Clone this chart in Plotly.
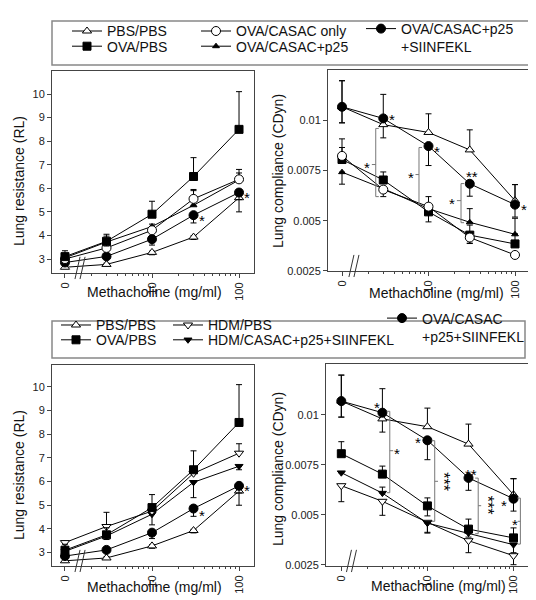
import numpy as np
import plotly.graph_objects as go

# ---------------- data ----------------
doses = [0, 3, 10, 30, 100]              # methacholine (mg/ml); dose 0 is drawn at the axis break
x_tick_doses = [0, 10, 100]
x_tick_labels = ["0", "10", "100"]
minor_doses = [2, 3, 4, 5, 6, 7, 8, 9, 20, 30, 40, 50, 60, 70, 80, 90]
rl_ticks = [3, 4, 5, 6, 7, 8, 9, 10]
cdyn_ticks = [0.0025, 0.005, 0.0075, 0.01]
cdyn_tick_labels = ["0.0025", "0.005", "0.0075", "0.01"]

# Lung resistance (RL)
rl_pbs_pbs = [2.65, 2.77, 3.28, 3.93, 5.60]
rl_pbs_pbs_up = [0.05, 0.05, 0.05, 0.05, 0.0]
rl_pbs_pbs_dn = [0.05, 0.05, 0.1, 0.1, 0.60]
rl_ova_pbs = [3.10, 3.75, 4.90, 6.50, 8.50]
rl_ova_pbs_up = [0.25, 0.30, 0.55, 0.80, 1.60]
rl_ova_pbs_dn = [0.1, 0.20, 0.0, 0.0, 0.0]
rl_casac_only = [3.00, 3.47, 4.22, 5.55, 6.38]
rl_casac_only_up = [0.15, 0.15, 0.15, 0.40, 0.42]
rl_casac_only_dn = [0.0, 0.0, 0.0, 0.0, 0.0]
rl_casac_p25 = [3.05, 3.72, 4.38, 5.28, 6.35]
rl_casac_p25_up = [0.15, 0.25, 0.10, 0.62, 0.30]
rl_casac_p25_dn = [0.0, 0.0, 0.0, 0.0, 0.0]
rl_siinfekl = [2.85, 3.11, 3.84, 4.86, 5.82]
rl_siinfekl_up = [0.0, 0.0, 0.0, 0.0, 0.0]
rl_siinfekl_dn = [0.10, 0.10, 0.25, 0.33, 0.30]
rl_hdm_pbs = [3.42, 4.10, 4.75, 6.35, 7.20]
rl_hdm_pbs_up = [0.05, 0.60, 0.20, 0.25, 0.40]
rl_hdm_pbs_dn = [0.0, 0.0, 0.0, 0.0, 0.0]
rl_hdm_casac = [3.05, 3.70, 4.62, 5.97, 6.65]
rl_hdm_casac_up = [0.0, 0.0, 0.0, 0.0, 0.0]
rl_hdm_casac_dn = [0.10, 0.05, 0.45, 0.65, 0.15]

# Lung compliance (CDyn)
cd_pbs_pbs = [0.01068, 0.00979, 0.00940, 0.00853, 0.00600]
cd_pbs_pbs_up = [0.0013, 0.0, 0.00093, 0.0010, 0.0008]
cd_pbs_pbs_dn = [0.0008, 0.00066, 0.0, 0.0, 0.0]
cd_ova_pbs = [0.00805, 0.00703, 0.00544, 0.00428, 0.00384]
cd_ova_pbs_up = [0.0006, 0.0004, 0.0004, 0.0005, 0.0005]
cd_ova_pbs_dn = [0.0, 0.0, 0.0005, 0.0004, 0.0]
cd_casac_only = [0.00823, 0.00655, 0.00570, 0.00416, 0.00329]
cd_casac_only_up = [0.00085, 0.0, 0.0005, 0.0, 0.0]
cd_casac_only_dn = [0.0, 0.00035, 0.0, 0.0003, 0.0]
cd_casac_p25 = [0.00742, 0.00660, 0.00560, 0.00492, 0.00432]
cd_casac_p25_up = [0.0, 0.0, 0.0, 0.00068, 0.0008]
cd_casac_p25_dn = [0.0006, 0.0, 0.0, 0.0, 0.0]
cd_siinfekl = [0.01068, 0.01010, 0.00872, 0.00684, 0.00580]
cd_siinfekl_up = [0.0013, 0.0012, 0.0, 0.0, 0.0010]
cd_siinfekl_dn = [0.0008, 0.0, 0.00097, 0.00062, 0.00062]
cd_hdm_pbs = [0.00645, 0.00567, 0.00462, 0.00370, 0.00295]
cd_hdm_pbs_up = [0.0, 0.0, 0.0, 0.0, 0.0]
cd_hdm_pbs_dn = [0.0008, 0.0007, 0.0005, 0.0006, 0.00045]
cd_hdm_casac = [0.00710, 0.00608, 0.00458, 0.00408, 0.00350]
cd_hdm_casac_up = [0.0, 0.0003, 0.0, 0.0, 0.0]
cd_hdm_casac_dn = [0.0, 0.0, 0.0005, 0.0, 0.0004]

# ---------------- helpers ----------------
W, H = 536, 600
AX = "#444444"
FONT = "Liberation Sans, Arial, Helvetica, sans-serif"


def pos(d):
    return 0.0 if d == 0 else float(np.log10(d))


x_pos = [pos(d) for d in doses]
tick_pos = [pos(d) for d in x_tick_doses]
minor_pos = [pos(d) for d in minor_doses]


def fx(p):
    return p / W


def fy(p):
    return 1 - p / H


STY = {
    "PBS/PBS": dict(symbol="triangle-up", size=8, fill="white"),
    "OVA/PBS": dict(symbol="square", size=8, fill="black"),
    "OVA/CASAC only": dict(symbol="circle", size=9, fill="white"),
    "OVA/CASAC+p25": dict(symbol="triangle-up", size=6, fill="black"),
    "OVA/CASAC+p25<br>+SIINFEKL": dict(symbol="circle", size=9, fill="black"),
    "OVA/CASAC<br>+p25+SIINFEKL": dict(symbol="circle", size=9, fill="black"),
    "HDM/PBS": dict(symbol="triangle-down", size=8, fill="white"),
    "HDM/CASAC+p25+SIINFEKL": dict(symbol="triangle-down", size=7, fill="black"),
}

fig = go.Figure()


def add_series(xa, ya, name, y, up, dn, legend=None):
    st = STY[name]
    fig.add_trace(go.Scatter(
        x=x_pos, y=y, mode="lines+markers", name=name, xaxis=xa, yaxis=ya,
        line=dict(color="black", width=1),
        marker=dict(symbol=st["symbol"], size=st["size"], color=st["fill"],
                    line=dict(color="black", width=1)),
        error_y=dict(type="data", symmetric=False, array=up, arrayminus=dn,
                     color="black", thickness=1, width=3),
        showlegend=legend is not None, legend=legend if legend else "legend",
    ))


# Top-left: OVA, RL
add_series("x", "y", "PBS/PBS", rl_pbs_pbs, rl_pbs_pbs_up, rl_pbs_pbs_dn, "legend")
add_series("x", "y", "OVA/CASAC+p25<br>+SIINFEKL", rl_siinfekl, rl_siinfekl_up, rl_siinfekl_dn, "legend5")
add_series("x", "y", "OVA/CASAC+p25", rl_casac_p25, rl_casac_p25_up, rl_casac_p25_dn, "legend4")
add_series("x", "y", "OVA/CASAC only", rl_casac_only, rl_casac_only_up, rl_casac_only_dn, "legend3")
add_series("x", "y", "OVA/PBS", rl_ova_pbs, rl_ova_pbs_up, rl_ova_pbs_dn, "legend2")

# Top-right: OVA, CDyn
add_series("x2", "y2", "OVA/CASAC+p25", cd_casac_p25, cd_casac_p25_up, cd_casac_p25_dn)
add_series("x2", "y2", "OVA/PBS", cd_ova_pbs, cd_ova_pbs_up, cd_ova_pbs_dn)
add_series("x2", "y2", "OVA/CASAC only", cd_casac_only, cd_casac_only_up, cd_casac_only_dn)
add_series("x2", "y2", "PBS/PBS", cd_pbs_pbs, cd_pbs_pbs_up, cd_pbs_pbs_dn)
add_series("x2", "y2", "OVA/CASAC+p25<br>+SIINFEKL", cd_siinfekl, cd_siinfekl_up, cd_siinfekl_dn)

# Bottom-left: HDM, RL
add_series("x3", "y3", "PBS/PBS", rl_pbs_pbs, rl_pbs_pbs_up, rl_pbs_pbs_dn, "legend6")
add_series("x3", "y3", "OVA/CASAC<br>+p25+SIINFEKL", rl_siinfekl, rl_siinfekl_up, rl_siinfekl_dn, "legend10")
add_series("x3", "y3", "HDM/CASAC+p25+SIINFEKL", rl_hdm_casac, rl_hdm_casac_up, rl_hdm_casac_dn, "legend9")
add_series("x3", "y3", "HDM/PBS", rl_hdm_pbs, rl_hdm_pbs_up, rl_hdm_pbs_dn, "legend8")
add_series("x3", "y3", "OVA/PBS", rl_ova_pbs, rl_ova_pbs_up, rl_ova_pbs_dn, "legend7")

# Bottom-right: HDM, CDyn
add_series("x4", "y4", "HDM/PBS", cd_hdm_pbs, cd_hdm_pbs_up, cd_hdm_pbs_dn)
add_series("x4", "y4", "HDM/CASAC+p25+SIINFEKL", cd_hdm_casac, cd_hdm_casac_up, cd_hdm_casac_dn)
add_series("x4", "y4", "OVA/PBS", cd_ova_pbs, cd_ova_pbs_up, cd_ova_pbs_dn)
add_series("x4", "y4", "PBS/PBS", cd_pbs_pbs, cd_pbs_pbs_up, cd_pbs_pbs_dn)
add_series("x4", "y4", "OVA/CASAC<br>+p25+SIINFEKL", cd_siinfekl, cd_siinfekl_up, cd_siinfekl_dn)

# ---------------- axes ----------------
panels = {
    # name: (x px domain, y px domain(top,bottom), x range, y range)
    "1": ((44, 246), (63, 265), [-0.149, 2.172], [2.406, 10.976]),
    "2": ((320, 523), (62, 263), [-0.162, 2.185], [0.00249, 0.012515]),
    "3": ((44, 246), (357, 558), [-0.149, 2.172], [2.43, 10.93]),
    "4": ((318, 521), (356, 558), [-0.178, 2.18], [0.002435, 0.012535]),
}

layout_axes = {}
for k, (xd, yd, xr, yr) in panels.items():
    sfx = "" if k == "1" else k
    layout_axes["xaxis" + sfx] = dict(
        domain=[fx(xd[0]), fx(xd[1])], range=xr, anchor="y" + sfx,
        showline=True, linecolor=AX, linewidth=1, mirror=True,
        ticks="outside", ticklen=4, tickwidth=1, tickcolor=AX,
        tickmode="array", tickvals=tick_pos, ticktext=x_tick_labels, tickangle=-90,
        tickfont=dict(size=11, color="#222", family=FONT),
        minor=dict(tickmode="array", tickvals=minor_pos, ticks="outside",
                   ticklen=2, tickcolor=AX, tickwidth=1, showgrid=False),
        showgrid=False, zeroline=False, automargin=False, fixedrange=True)
    is_rl = k in ("1", "3")
    layout_axes["yaxis" + sfx] = dict(
        domain=[fy(yd[1]), fy(yd[0])], range=yr, anchor="x" + sfx,
        showline=True, linecolor=AX, linewidth=1, mirror=True,
        ticks="outside", ticklen=4, tickwidth=1, tickcolor=AX,
        tickmode="array",
        tickvals=rl_ticks if is_rl else cdyn_ticks,
        ticktext=[str(v) for v in rl_ticks] if is_rl else cdyn_tick_labels,
        tickfont=dict(size=11, color="#222", family=FONT),
        showgrid=False, zeroline=False, automargin=False, fixedrange=True)

# ---------------- legends (one cell each) ----------------
legends = {}
cells = {
    "legend": (59, 7.4), "legend2": (59, 22.6), "legend3": (188, 7.4),
    "legend4": (188, 22.6), "legend5": (353, 5.0),
    "legend6": (48, 301.4), "legend7": (48, 316.2), "legend8": (160, 301.4),
    "legend9": (160, 316.2), "legend10": (374, 294.5),
}
for name, (lx, ly) in cells.items():
    legends[name] = dict(x=fx(lx), y=fy(ly), xanchor="left", yanchor="top",
                         bgcolor="rgba(0,0,0,0)", borderwidth=0, valign="top",
                         font=dict(size=14, color="#111", family=FONT),
                         tracegroupgap=0)

shapes = []
# legend frames
for (x0, y0, x1, y1) in [(44, 13, 524, 57), (44, 313, 517, 350)]:
    shapes.append(dict(type="rect", xref="paper", yref="paper",
                       x0=fx(x0), x1=fx(x1), y0=fy(y1), y1=fy(y0),
                       line=dict(color="#888", width=1.5), fillcolor="rgba(0,0,0,0)"))

# axis breaks (//) near dose 0
for k, bx in [("1", 0.115), ("2", 0.08), ("3", 0.115), ("4", 0.06)]:
    sfx = "" if k == "1" else k
    for i in range(2):
        xa = bx + i * 0.058
        shapes.append(dict(type="line", xref="x" + sfx, yref="y" + sfx + " domain",
                           x0=xa, x1=xa + 0.058, y0=-0.03, y1=0.08,
                           line=dict(color="#333", width=1)))

annotations = []
STAR_COL = "#000000"


def star(sfx, x, y, text="*", angle=0, size=15):
    annotations.append(dict(xref="x" + sfx, yref="y" + sfx, x=x, y=y, text=text,
                            showarrow=False, xanchor="center", yanchor="middle",
                            yshift=-3 if angle == 0 else 0, xshift=0 if angle == 0 else 2,
                            textangle=angle,
                            font=dict(size=size, color=STAR_COL, family=FONT)))


def bracket(sfx, x, y0, y1, side, sx, sy, text="*", angle=0):
    s = 0.035 * side
    shapes.append(dict(type="path", xref="x" + sfx, yref="y" + sfx,
                       path=f"M {x + s},{y0} L {x},{y0} L {x},{y1} L {x + s},{y1}",
                       line=dict(color="#777", width=1)))
    # short connector from bracket to star
    shapes.append(dict(type="line", xref="x" + sfx, yref="y" + sfx,
                       x0=x, x1=x + (sx - x) * 0.45, y0=sy, y1=sy,
                       line=dict(color="#777", width=1)))
    star(sfx, sx, sy, text, angle, 15 if angle == 0 else 16)


# top-left stars
star("", 1.575, 4.74)
star("", 2.09, 5.72)
# bottom-left stars
star("3", 1.575, 4.70)
star("3", 2.09, 5.77)

# top-right
star("2", 0.575, 0.0102)
star("2", 1.10, 0.0086)
star("2", 1.506, 0.00735, "**")
star("2", 2.10, 0.0057)
bracket("2", 0.39, 0.0062, 0.0096, 1, 0.29, 0.0078)
bracket("2", 0.89, 0.0058, 0.00865, 1, 0.80, 0.0073)
bracket("2", 1.376, 0.0049, 0.00685, 1, 1.27, 0.0060)

# bottom-right
star("4", 0.42, 0.01053)
star("4", 0.89, 0.00878)
star("4", 1.51, 0.00717, "**")
star("4", 1.89, 0.00563)
bracket("4", 0.563, 0.0061, 0.01017, -1, 0.65, 0.0082)
bracket("4", 1.085, 0.00467, 0.0087, -1, 1.17, 0.00667, "***", 90)
bracket("4", 1.59, 0.00405, 0.00683, -1, 1.667, 0.00545, "***", 90)
bracket("4", 2.08, 0.00353, 0.00583, -1, 2.016, 0.00467)

# axis titles
for (tx, ty, txt, ang) in [
    (146, 284, "Methacholine (mg/ml)", 0), (428, 285, "Methacholine (mg/ml)", 0),
    (146, 579, "Methacholine (mg/ml)", 0), (430, 578, "Methacholine (mg/ml)", 0),
    (11, 173, "Lung resistance (RL)", -90), (270, 163, "Lung compliance (CDyn)", -90),
    (11, 467, "Lung resistance (RL)", -90), (270, 461, "Lung compliance (CDyn)", -90),
]:
    annotations.append(dict(xref="paper", yref="paper", x=fx(tx), y=fy(ty), text=txt,
                            textangle=ang, showarrow=False, xanchor="center", yanchor="middle",
                            font=dict(size=14, color="#111", family=FONT)))

fig.update_layout(
    width=W, height=H, margin=dict(l=0, r=0, t=0, b=0),
    paper_bgcolor="white", plot_bgcolor="white",
    font=dict(family=FONT, color="#111"),
    shapes=shapes, annotations=annotations,
    **layout_axes, **legends,
)

fig.write_html("out.html")
